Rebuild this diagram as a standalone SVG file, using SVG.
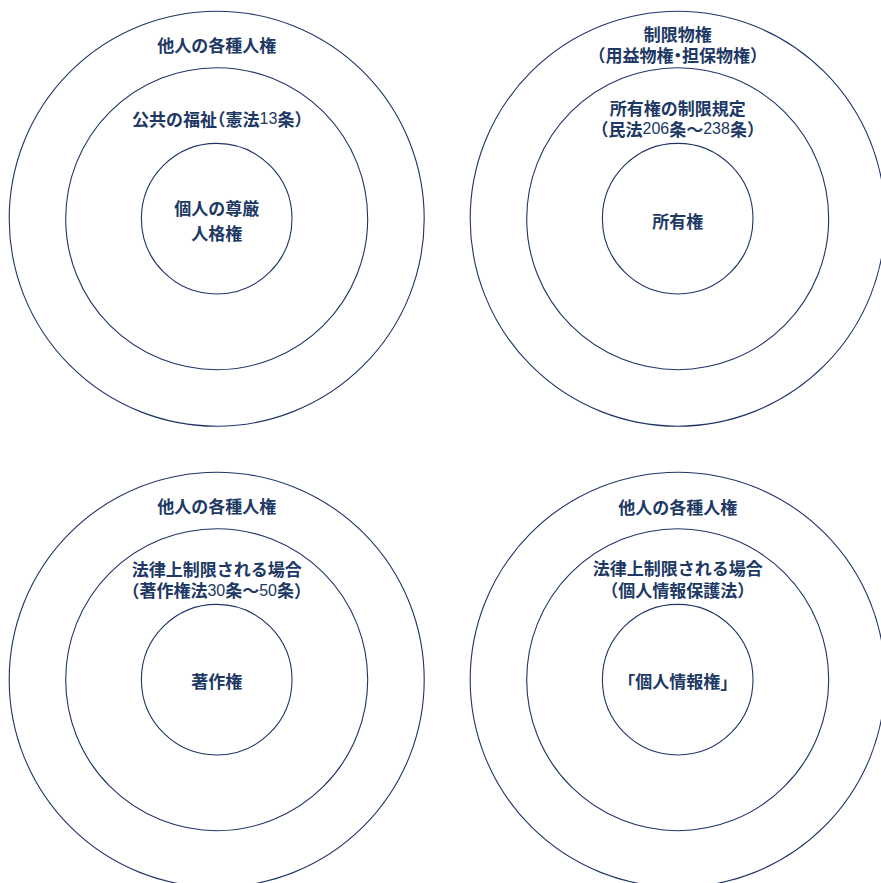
<svg xmlns="http://www.w3.org/2000/svg" width="881" height="883" viewBox="0 0 881 883">
<style>
  .ring { fill: none; stroke: #1f3566; stroke-width: 1.1; }
  .lbl { font-family: "Noto Sans CJK JP", "Noto Sans", sans-serif; font-size: 17px; font-weight: bold; fill: #203864; text-anchor: middle; dominant-baseline: central; }
  .num { font-family: "Liberation Sans", Arial, sans-serif; font-weight: normal; font-size: 16px; }
  .p { font-feature-settings: "halt"; }
</style>
<rect width="881" height="883" fill="#ffffff"/>
<g id="connectors"/>

<g id="tl-outer">
  <circle class="ring" cx="216.7" cy="218.7" r="207.5"/>
  <text class="lbl" x="216.7" y="44">他人の各種人権</text>
</g>
<g id="tl-middle">
  <circle class="ring" cx="216.7" cy="218.7" r="151"/>
  <text class="lbl" x="217.5" y="118.3">公共の福祉<tspan class="p">（</tspan>憲法<tspan class="num">13</tspan>条<tspan class="p">）</tspan></text>
</g>
<g id="tl-inner">
  <circle class="ring" cx="216.7" cy="218.7" r="75.3"/>
  <text class="lbl" x="216.7" y="207">個人の尊厳</text>
  <text class="lbl" x="216.7" y="232">人格権</text>
</g>

<g id="tr-outer">
  <circle class="ring" cx="677.7" cy="218.7" r="207.5"/>
  <text class="lbl" x="677.7" y="33.3">制限物権</text>
  <text class="lbl" x="677.7" y="54"><tspan class="p">（</tspan>用益物権<tspan class="p">・</tspan>担保物権<tspan class="p">）</tspan></text>
</g>
<g id="tr-middle">
  <circle class="ring" cx="677.7" cy="218.7" r="151"/>
  <text class="lbl" x="677.7" y="107.5">所有権の制限規定</text>
  <text class="lbl" x="677.7" y="128"><tspan class="p">（</tspan>民法<tspan class="num">206</tspan>条～<tspan class="num">238</tspan>条<tspan class="p">）</tspan></text>
</g>
<g id="tr-inner">
  <circle class="ring" cx="677.7" cy="218.7" r="75.3"/>
  <text class="lbl" x="677.7" y="220">所有権</text>
</g>

<g id="bl-outer">
  <circle class="ring" cx="216.7" cy="679.7" r="207.5"/>
  <text class="lbl" x="216.7" y="505.5">他人の各種人権</text>
</g>
<g id="bl-middle">
  <circle class="ring" cx="216.7" cy="679.7" r="151"/>
  <text class="lbl" x="216.7" y="568.8">法律上制限される場合</text>
  <text class="lbl" x="216.7" y="589.7"><tspan class="p">（</tspan>著作権法<tspan class="num">30</tspan>条～<tspan class="num">50</tspan>条<tspan class="p">）</tspan></text>
</g>
<g id="bl-inner">
  <circle class="ring" cx="216.7" cy="679.7" r="75.3"/>
  <text class="lbl" x="216.7" y="680.3">著作権</text>
</g>

<g id="br-outer">
  <circle class="ring" cx="677.7" cy="679.7" r="207.5"/>
  <text class="lbl" x="677.7" y="506">他人の各種人権</text>
</g>
<g id="br-middle">
  <circle class="ring" cx="677.7" cy="679.7" r="151"/>
  <text class="lbl" x="677.7" y="567.8">法律上制限される場合</text>
  <text class="lbl" x="677.7" y="589"><tspan class="p">（</tspan>個人情報保護法<tspan class="p">）</tspan></text>
</g>
<g id="br-inner">
  <circle class="ring" cx="677.7" cy="679.7" r="75.3"/>
  <text class="lbl" x="677.7" y="680.5"><tspan class="p">「</tspan>個人情報権<tspan class="p">」</tspan></text>
</g>
</svg>
